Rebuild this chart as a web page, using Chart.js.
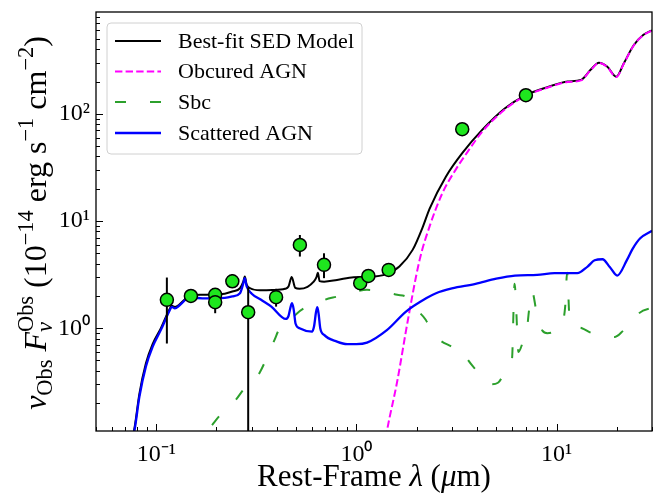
<!DOCTYPE html>
<html><head><meta charset="utf-8">
<script src="https://cdn.jsdelivr.net/npm/chart.js@4/dist/chart.umd.min.js"></script>
<style>html,body{margin:0;padding:0;background:#fff;}canvas{display:block;}</style>
</head><body>
<canvas id="c" width="660" height="493"></canvas>
<script>
// ---------------- data ----------------
const seriesNames = ['Best-fit SED Model', 'Obcured AGN', 'Sbc', 'Scattered AGN'];

const modelX = [0.074, 0.0779, 0.0824, 0.0888, 0.0959, 0.1055, 0.116, 0.1195, 0.124, 0.13, 0.14, 0.15, 0.17, 0.2, 0.22, 0.24, 0.262, 0.272, 0.277, 0.283, 0.295, 0.33, 0.38, 0.44, 0.458, 0.475, 0.495, 0.52, 0.57, 0.61, 0.632, 0.642, 0.655, 0.69, 0.8, 0.97, 1.17, 1.42, 1.64, 1.91, 2.15, 2.32, 2.8, 3.38, 4.25, 5.53, 6.95, 9.06, 11.37, 13.25, 14.8, 16.3, 17.9, 19.9, 21.7, 24.3, 27.2, 30];
const modelY = [0.08, 0.118, 0.245, 0.47, 0.71, 1.0, 1.48, 1.62, 1.58, 1.65, 1.88, 2.02, 2.05, 2.07, 2.1, 2.2, 2.36, 2.7, 3.03, 2.55, 2.36, 2.26, 2.27, 2.33, 2.45, 3.0, 2.38, 2.33, 2.43, 2.7, 3.0, 3.3, 2.75, 2.72, 2.82, 2.99, 3.01, 3.21, 3.76, 5.38, 8.87, 13.0, 25.9, 42.9, 70.7, 112.7, 148, 178, 200, 207, 257, 300, 276, 222, 296, 436, 545, 600];

const obscuredX = [1.35, 1.415, 1.6, 1.81, 2.07, 2.32, 2.69, 3.13, 3.65, 4.25, 5.53, 6.95, 9.06, 11.37, 13.25, 14.8, 16.3, 17.9, 19.9, 21.7, 24.3, 27.2, 30];
const obscuredY = [0.06, 0.105, 0.32, 1.2, 4.34, 8.87, 18.2, 30, 46, 68, 110, 146, 176, 198, 205, 255, 298, 274, 220, 294, 433, 542, 597];

const sbcX = [0.19, 0.209, 0.229, 0.25, 0.277, 0.305, 0.33, 0.35, 0.368, 0.39, 0.412, 0.454, 0.5, 0.55, 0.626, 0.7, 0.8, 0.95, 1.13, 1.36, 1.6, 1.77, 1.88, 2.0, 2.22, 2.37, 2.6, 2.96, 3.2, 3.38, 3.6, 4.0, 4.3, 4.7, 5.1, 5.5, 5.8, 6.0, 6.1, 6.17, 6.25, 6.35, 6.45, 6.8, 7.1, 7.3, 7.55, 7.9, 8.1, 8.5, 9.0, 9.8, 10.6, 11.05, 11.3, 11.6, 12.2, 13.4, 15.0, 17.0, 19.6, 21.7, 24, 26, 30];
const sbcY = [0.125, 0.155, 0.179, 0.215, 0.276, 0.311, 0.39, 0.49, 0.605, 0.78, 0.98, 1.11, 1.35, 1.54, 1.65, 1.85, 1.97, 2.15, 2.28, 2.19, 2.05, 1.97, 1.77, 1.5, 1.2, 0.95, 0.78, 0.68, 0.63, 0.63, 0.51, 0.40, 0.34, 0.30, 0.31, 0.38, 0.43, 0.53, 1.5, 2.6, 2.0, 1.0, 0.6, 0.75, 0.95, 1.5, 2.2, 1.5, 1.2, 0.95, 0.9, 0.93, 1.05, 1.6, 3.3, 1.3, 1.05, 1.0, 0.9, 0.86, 0.83, 0.96, 1.12, 1.39, 1.55];

const scatteredX = [0.074, 0.0779, 0.0824, 0.0888, 0.0959, 0.1055, 0.116, 0.1195, 0.124, 0.13, 0.14, 0.148, 0.155, 0.17, 0.2, 0.22, 0.24, 0.262, 0.272, 0.277, 0.283, 0.3, 0.334, 0.376, 0.444, 0.458, 0.468, 0.477, 0.486, 0.497, 0.52, 0.6, 0.615, 0.628, 0.638, 0.648, 0.66, 0.69, 0.8, 0.9, 1.0, 1.13, 1.42, 1.77, 2.23, 2.5, 3.0, 3.94, 5.0, 6.2, 8.0, 9.77, 12.7, 14.3, 15.5, 16.96, 18.5, 20.1, 22.5, 24, 26.2, 30];
const scatteredY = [0.075, 0.112, 0.23, 0.44, 0.67, 0.965, 1.43, 1.58, 1.53, 1.62, 1.85, 2.1, 1.95, 1.9, 1.9, 1.92, 1.98, 2.12, 2.6, 2.93, 2.45, 2.1, 1.84, 1.59, 1.22, 1.3, 1.55, 1.71, 1.5, 1.1, 1.0, 0.93, 1.05, 1.4, 1.57, 1.35, 1.0, 0.867, 0.75, 0.71, 0.71, 0.734, 0.96, 1.43, 1.9, 2.12, 2.35, 2.59, 2.9, 3.1, 3.15, 3.26, 3.26, 3.76, 4.3, 4.4, 3.7, 3.1, 4.34, 5.5, 6.9, 8.1];

const obsX = [0.113, 0.149, 0.197, 0.197, 0.24, 0.288, 0.397, 0.522, 0.689, 1.045, 1.148, 1.45, 3.38, 7.03];
const obsY = [1.84, 2.0, 2.05, 1.75, 2.74, 1.41, 1.95, 5.98, 3.9, 2.63, 3.07, 3.5, 71.8, 149];
const obsErrLo = [0.72, 1.85, 1.92, 1.38, 2.38, 0.01, 1.59, 4.66, 2.93, 2.28, 2.72, 3.2, 69, 145];
const obsErrHi = [2.97, 2.15, 2.2, 2.12, 3.2, 2.4, 2.33, 7.4, 5.0, 2.95, 3.5, 3.8, 75, 153];

const xTickValues = [0.1, 1, 10];
const xTickLabels = ['10\u207B\u00B9', '10\u2070', '10\u00B9'];
const yTickValues = [1, 10, 100];
const yTickLabels = ['10\u2070', '10\u00B9', '10\u00B2'];

// ---------------- helpers ----------------
const FONT = '"Liberation Serif", "Times New Roman", serif';
const toXY = (xs, ys) => xs.map((x, i) => ({x: x, y: ys[i]}));

function richLayout(ctx, segs, size) {
  let x = 0, lastStart = 0, lastW = 0;
  const items = [];
  for (const s of segs) {
    const [t, st, pos, stack] = s;
    const fs = pos === 'b' ? size : size * 0.7;
    const font = (st === 'i' ? 'italic ' : '') + fs + 'px ' + FONT;
    ctx.font = font;
    const w = ctx.measureText(t).width;
    const dy = pos === 'sup' ? -size * 0.42 : (pos === 'sub' ? size * 0.2 : 0);
    let sx;
    if (stack) { sx = lastStart; x = lastStart + Math.max(lastW, w); }
    else { sx = x; x += w; }
    items.push({t: t, font: font, x: sx, dy: dy});
    lastStart = sx; lastW = w;
  }
  return {items: items, width: x};
}
function drawRich(ctx, segs, size, cx, baseY) {
  const L = richLayout(ctx, segs, size);
  const x0 = cx - L.width / 2;
  ctx.textBaseline = 'alphabetic';
  ctx.textAlign = 'left';
  ctx.fillStyle = '#000';
  for (const it of L.items) { ctx.font = it.font; ctx.fillText(it.t, x0 + it.x, baseY + it.dy); }
}

const yTitle = [['\u03BD','i','b'],['Obs','r','sub'],[' ','r','b'],['F','i','b'],['\u03BD','i','sub'],['Obs','r','sup',true],
  [' (10','r','b'],['\u221214','r','sup'],[' erg s','r','b'],['\u22121','r','sup'],[' cm','r','b'],['\u22122','r','sup'],[')','r','b']];
const xTitle = [['Rest-Frame ','r','b'],['\u03BB','i','b'],[' (','r','b'],['\u03BC','i','b'],['m)','r','b']];

const legendStyles = [
  {color: '#000000', dash: [], width: 2},
  {color: '#ff00ff', dash: [7.4, 3.2], width: 2},
  {color: '#2ca02c', dash: [11, 24], width: 2},
  {color: '#0000ff', dash: [], width: 2.3},
];

const decorPlugin = {
  id: 'decor',
  beforeDatasetDraw(chart, args) {
    if (args.index !== 0) return;
    const ctx = chart.ctx, xs = chart.scales.x, ys = chart.scales.y, a = chart.chartArea;
    ctx.save();
    ctx.beginPath(); ctx.rect(a.left, a.top, a.right - a.left, a.bottom - a.top); ctx.clip();
    ctx.strokeStyle = '#000'; ctx.lineWidth = 2;
    for (let i = 0; i < obsX.length; i++) {
      const px = xs.getPixelForValue(obsX[i]);
      ctx.beginPath();
      ctx.moveTo(px, ys.getPixelForValue(obsErrLo[i]));
      ctx.lineTo(px, ys.getPixelForValue(obsErrHi[i]));
      ctx.stroke();
    }
    ctx.restore();
  },
  afterDraw(chart) {
    const ctx = chart.ctx, xs = chart.scales.x, ys = chart.scales.y, a = chart.chartArea;
    ctx.save();
    // minor / major ticks, pointing inward
    ctx.strokeStyle = '#000'; ctx.lineWidth = 1;
    for (let d = -3; d <= 3; d++) {
      for (let m = 1; m <= 9; m++) {
        const v = m * Math.pow(10, d);
        const len = m === 1 ? 7 : 4;
        if (v >= xs.min * 0.999 && v <= xs.max * 1.001) {
          const px = Math.round(xs.getPixelForValue(v)) + 0.5;
          ctx.beginPath(); ctx.moveTo(px, a.bottom); ctx.lineTo(px, a.bottom - len); ctx.stroke();
        }
        if (v >= ys.min * 0.999 && v <= ys.max * 1.001) {
          const py = Math.round(ys.getPixelForValue(v)) + 0.5;
          ctx.beginPath(); ctx.moveTo(a.left, py); ctx.lineTo(a.left + len, py); ctx.stroke();
        }
      }
    }
    // frame
    ctx.lineWidth = 1.3;
    ctx.strokeRect(a.left, a.top, a.right - a.left, a.bottom - a.top);

    // legend
    const lx = 107, ly = 23, lw = 255, lh = 131, r = 4;
    ctx.beginPath();
    ctx.moveTo(lx + r, ly); ctx.lineTo(lx + lw - r, ly); ctx.arcTo(lx + lw, ly, lx + lw, ly + r, r);
    ctx.lineTo(lx + lw, ly + lh - r); ctx.arcTo(lx + lw, ly + lh, lx + lw - r, ly + lh, r);
    ctx.lineTo(lx + r, ly + lh); ctx.arcTo(lx, ly + lh, lx, ly + lh - r, r);
    ctx.lineTo(lx, ly + r); ctx.arcTo(lx, ly, lx + r, ly, r); ctx.closePath();
    ctx.fillStyle = 'rgba(255,255,255,0.8)'; ctx.fill();
    ctx.strokeStyle = '#d0d0d0'; ctx.lineWidth = 1; ctx.stroke();
    const rows = [41, 71.5, 102, 133];
    ctx.font = '22px ' + FONT; ctx.textBaseline = 'middle'; ctx.textAlign = 'left';
    for (let i = 0; i < seriesNames.length; i++) {
      const st = legendStyles[i];
      ctx.strokeStyle = st.color; ctx.lineWidth = st.width; ctx.setLineDash(st.dash);
      ctx.beginPath(); ctx.moveTo(115, rows[i]); ctx.lineTo(161, rows[i]); ctx.stroke();
      ctx.setLineDash([]);
      ctx.fillStyle = '#000'; ctx.fillText(seriesNames[i], 178, rows[i] + 1);
    }

    // axis titles
    drawRich(ctx, xTitle, 31, (a.left + a.right) / 2, 486);
    ctx.save();
    ctx.translate(46, 223);
    ctx.rotate(-Math.PI / 2);
    drawRich(ctx, yTitle, 32, 0, 0);
    ctx.restore();
    ctx.restore();
  }
};

const tickFont = {family: FONT, size: 24};
function labelFor(values, labels) {
  return (v) => { const i = values.findIndex(t => Math.abs(t - v) / t < 1e-6); return i >= 0 ? labels[i] : ''; };
}

new Chart(document.getElementById('c').getContext('2d'), {
  type: 'scatter',
  data: {
    datasets: [
      {label: 'Data', data: toXY(obsX, obsY), pointRadius: 6.5, pointHoverRadius: 6.5,
       backgroundColor: '#1ee61e', borderColor: '#000', borderWidth: 1.5, order: 0},
      {label: seriesNames[3], data: toXY(scatteredX, scatteredY), showLine: true, pointRadius: 0,
       borderColor: '#0000ff', borderWidth: 2.3, cubicInterpolationMode: 'monotone', fill: false, order: 1},
      {label: seriesNames[2], data: toXY(sbcX, sbcY), showLine: true, pointRadius: 0,
       borderColor: '#2ca02c', borderWidth: 2, borderDash: [11, 24], cubicInterpolationMode: 'monotone', fill: false, order: 2},
      {label: seriesNames[1], data: toXY(obscuredX, obscuredY), showLine: true, pointRadius: 0,
       borderColor: '#ff00ff', borderWidth: 2, borderDash: [7.4, 3.2], cubicInterpolationMode: 'monotone', fill: false, order: 3},
      {label: seriesNames[0], data: toXY(modelX, modelY), showLine: true, pointRadius: 0,
       borderColor: '#000000', borderWidth: 2, cubicInterpolationMode: 'monotone', fill: false, order: 4},
    ]
  },
  options: {
    responsive: false, animation: false, devicePixelRatio: 1,
    layout: {padding: {top: 12, right: 2, left: 0, bottom: 0}},
    plugins: {legend: {display: false}, tooltip: {enabled: false}},
    events: [],
    scales: {
      x: {
        type: 'logarithmic', min: 0.05, max: 30,
        grid: {display: false, drawTicks: false, tickLength: 0}, border: {display: false},
        afterBuildTicks: (s) => { s.ticks = xTickValues.map(v => ({value: v, major: true})); },
        afterFit: (s) => { s.height = 62; s.paddingLeft = 0; s.paddingRight = 0; },
        ticks: {autoSkip: false, maxRotation: 0, minRotation: 0, padding: 9, color: '#000', font: tickFont,
                callback: labelFor(xTickValues, xTickLabels)}
      },
      y: {
        type: 'logarithmic', min: 0.11, max: 890,
        grid: {display: false, drawTicks: false, tickLength: 0}, border: {display: false},
        afterBuildTicks: (s) => { s.ticks = yTickValues.map(v => ({value: v, major: true})); },
        afterFit: (s) => { s.width = 96; s.paddingTop = 0; s.paddingBottom = 0; },
        ticks: {autoSkip: false, padding: 6, color: '#000', font: tickFont,
                callback: labelFor(yTickValues, yTickLabels)}
      }
    }
  },
  plugins: [decorPlugin]
});
</script>
</body></html>
